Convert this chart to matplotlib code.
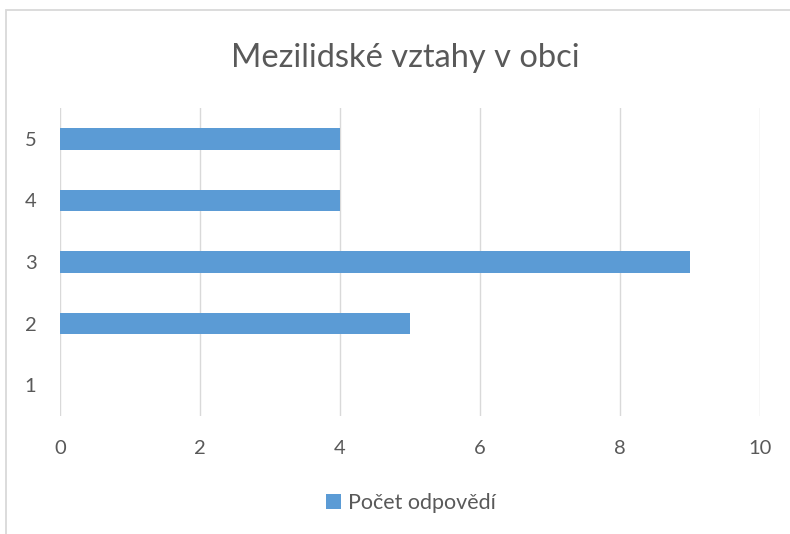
import matplotlib.pyplot as plt
from matplotlib.patches import Rectangle

# data
categories = ["1", "2", "3", "4", "5"]
counts = [0, 5, 9, 4, 4]
x_ticks = [0, 2, 4, 6, 8, 10]

title = "Mezilidské vztahy v obci"
series_name = "Počet odpovědí"

bar_color = "#5b9bd5"
grid_color = "#d9d9d9"
text_color = "#595959"

plt.rcParams["font.family"] = ["Lato", "DejaVu Sans"]

fig = plt.figure(figsize=(7.9, 5.34), dpi=100)
W, H = 790, 534
ax = fig.add_axes([60 / W, 1 - 416 / H, 700 / W, 308 / H])

pos = range(1, len(categories) + 1)
ax.barh(pos, counts, height=0.35, color=bar_color, label=series_name, zorder=3)

ax.set_xlim(0, 10)
ax.set_ylim(0.5, len(categories) + 0.5)
ax.set_xticks(x_ticks)
ax.set_yticks(list(pos))
ax.set_yticklabels(categories)
ax.grid(axis="x", color=grid_color, linewidth=1.0, zorder=0)
ax.grid(axis="y", visible=False)
for s in ax.spines.values():
    s.set_visible(False)
ax.tick_params(axis="both", length=0, labelsize=14.5, labelcolor=text_color)
ax.tick_params(axis="x", pad=17)
ax.tick_params(axis="y", pad=17)

fig.text(405 / W, 1 - 58 / H, title, ha="center", va="center",
         fontsize=23.5, color=text_color)

leg = fig.legend(loc="center", bbox_to_anchor=(411 / W, 1 - 503 / H),
                 frameon=False, fontsize=15.5, handlelength=0.7, handleheight=0.7,
                 handletextpad=0.35, labelcolor=text_color)

# chart frame, cropped on the right and bottom
fig.patches.append(Rectangle((5.5 / W, -0.1), 1.2, 1 - 9.5 / H + 0.1,
                             transform=fig.transFigure, fill=False,
                             edgecolor=grid_color, linewidth=1.3))

fig.savefig("out.png", dpi=100, facecolor="white")
